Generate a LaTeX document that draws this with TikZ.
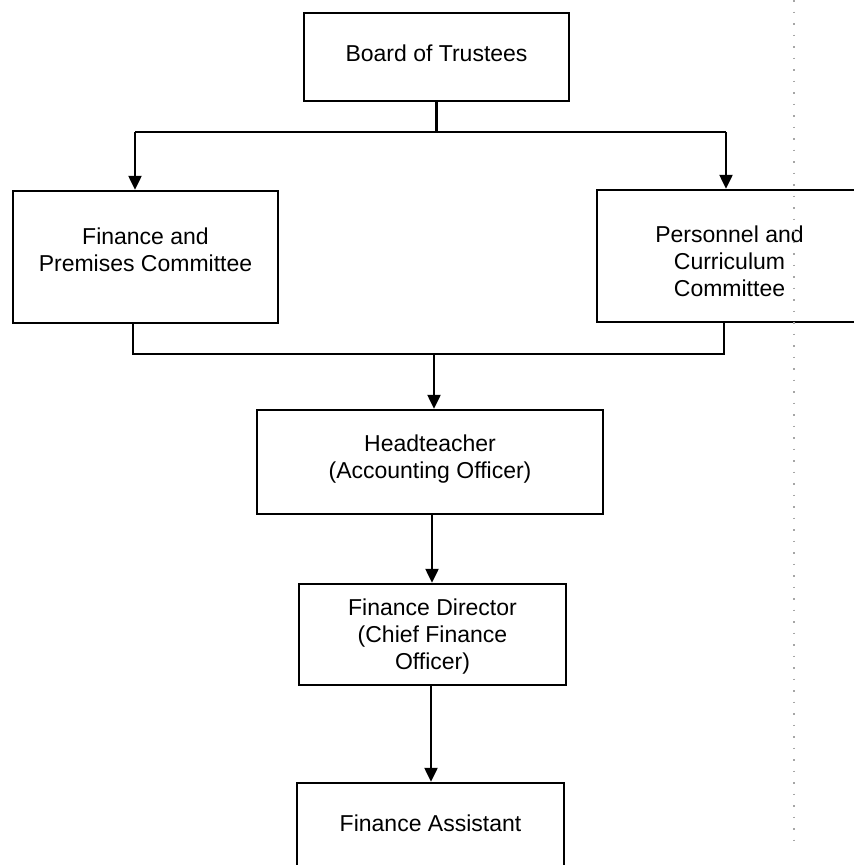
\documentclass[tikz,border=0pt]{standalone}
\usepackage{fontspec}
\setmainfont{Liberation Sans}
\usetikzlibrary{arrows.meta}
\tikzset{
  box/.style={draw=black, line width=2.4pt, rectangle, inner sep=0pt},
  lbl/.style={align=center, font=\fontsize{23}{27}\selectfont, inner sep=0pt},
  conn/.style={line width=2.3pt},
  arr/.style={line width=2.3pt, -{Triangle[length=14pt,width=13pt]}},
  scan/.style={gray!70, line width=1.2pt, dash pattern=on 1.5pt off 10pt}
}
\begin{document}
\begin{tikzpicture}[x=1pt,y=-1pt]
\useasboundingbox (0,0) rectangle (854,865);
\clip (0,0) rectangle (854,865);
\fill[white] (0,0) rectangle (854,865);
% boxes
\node[box, minimum width=265pt, minimum height=88pt] (board) at (436.5,57) {};
\node[lbl] (boardt) at (436.5,53) {Board of Trustees};
\node[box, minimum width=265pt, minimum height=132pt] (fin) at (145.5,257) {};
\node[lbl] (fint) at (145.5,250) {Finance and\\Premises Committee};
\node[box, minimum width=265pt, minimum height=132pt] (pers) at (729.5,256) {};
\node[lbl] (perst) at (729.5,261) {Personnel and\\Curriculum\\Committee};
\node[box, minimum width=346pt, minimum height=104pt] (head) at (430,462) {};
\node[lbl] (headt) at (430,459.5) {Headteacher\\(Accounting Officer)};
\node[box, minimum width=267pt, minimum height=101pt] (fd) at (432.5,634.5) {};
\node[lbl] (fdt) at (432.5,636.5) {Finance Director\\(Chief Finance\\Officer)};
\node[box, minimum width=267pt, minimum height=120pt] (fa) at (430.5,843) {};
\node[lbl] (fat) at (430.5,823) {Finance Assistant};
% coordinates
\coordinate (t1) at (436.5,132);
\coordinate (tl) at (135,132);
\coordinate (tr) at (726,132);
\coordinate (b1) at (434,354);
\coordinate (bl) at (133,354);
\coordinate (br) at (724,354);
% connectors
\draw[conn] (board.south) -- (t1);
\draw[conn] (tl) -- (tr);
\draw[arr] (tl) -- (tl |- fin.north);
\draw[arr] (tr) -- (tr |- pers.north);
\draw[conn] (bl |- fin.south) -- (bl) -- (br) -- (br |- pers.south);
\draw[arr] (b1) -- (b1 |- head.north);
\draw[arr] (head.south -| 432,0) -- (fd.north -| 432,0);
\draw[arr] (fd.south -| 431,0) -- (fa.north -| 431,0);
% scan artefact dotted margin line
\draw[scan] (794,0) -- (794,850);
\end{tikzpicture}
\end{document}
